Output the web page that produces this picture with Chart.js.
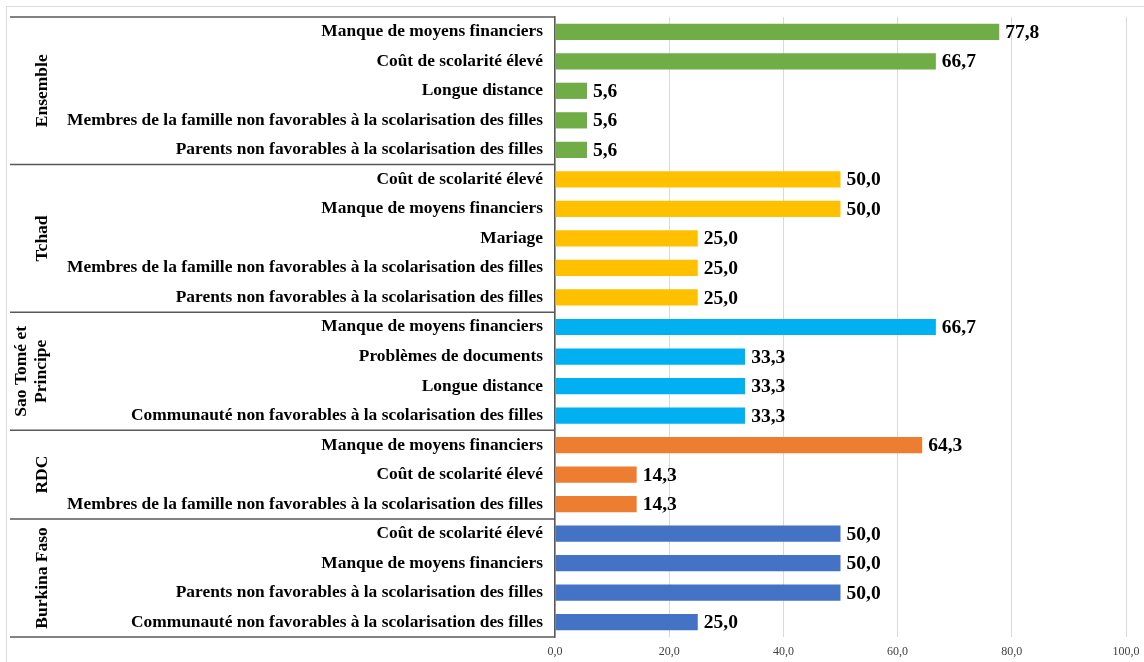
<!DOCTYPE html>
<html>
<head>
<meta charset="utf-8">
<script src="https://cdn.jsdelivr.net/npm/chart.js@4/dist/chart.umd.min.js"></script>
<style>
    html, body { margin: 0; padding: 0; background: #fff; }
    #wrap { position: relative; width: 1144px; height: 662px; overflow: hidden; }
    #frame { position: absolute; left: 6px; top: 6px; width: 1200px; height: 700px; border: 1px solid #dcdcdc; }
    #chart { position: absolute; left: 0; top: 0; }
</style>
</head>
<body>
<div id="wrap">
    <div id="frame"></div>
    <canvas id="chart" width="1144" height="662"></canvas>
</div>
<script>
// Data (percentages)
const groupNames = ['Ensemble', 'Tchad', ['Sao Tomé et', 'Principe'], 'RDC', 'Burkina Faso'];
const groupColors = ['#70AD47', '#FFC000', '#00B0F0', '#ED7D31', '#4472C4'];

const ensembleLabels = [
    'Manque de moyens financiers',
    'Coût de scolarité élevé',
    'Longue distance',
    'Membres de la famille non favorables à la scolarisation des filles',
    'Parents non favorables à la scolarisation des filles'
];
const ensembleValues = [77.8, 66.7, 5.6, 5.6, 5.6];

const tchadLabels = [
    'Coût de scolarité élevé',
    'Manque de moyens financiers',
    'Mariage',
    'Membres de la famille non favorables à la scolarisation des filles',
    'Parents non favorables à la scolarisation des filles'
];
const tchadValues = [50.0, 50.0, 25.0, 25.0, 25.0];

const saoTomeLabels = [
    'Manque de moyens financiers',
    'Problèmes de documents',
    'Longue distance',
    'Communauté non favorables à la scolarisation des filles'
];
const saoTomeValues = [66.7, 33.3, 33.3, 33.3];

const rdcLabels = [
    'Manque de moyens financiers',
    'Coût de scolarité élevé',
    'Membres de la famille non favorables à la scolarisation des filles'
];
const rdcValues = [64.3, 14.3, 14.3];

const burkinaLabels = [
    'Coût de scolarité élevé',
    'Manque de moyens financiers',
    'Parents non favorables à la scolarisation des filles',
    'Communauté non favorables à la scolarisation des filles'
];
const burkinaValues = [50.0, 50.0, 50.0, 25.0];

const xTicks = [0, 20, 40, 60, 80, 100];

// Build flat arrays for the chart
const groupLabels = [ensembleLabels, tchadLabels, saoTomeLabels, rdcLabels, burkinaLabels];
const groupValues = [ensembleValues, tchadValues, saoTomeValues, rdcValues, burkinaValues];

const labels = [];
const values = [];
const colors = [];
const groupStarts = [];
groupLabels.forEach((list, g) => {
    groupStarts.push(labels.length);
    list.forEach((lab, i) => {
        labels.push(lab);
        values.push(groupValues[g][i]);
        colors.push(groupColors[g]);
    });
});

const serif = "'Liberation Serif', 'Times New Roman', serif";
const fmt = v => v.toFixed(1).replace('.', ',');

// Group frame lines and rotated group names on the left
const groupPlugin = {
    id: 'groupPlugin',
    afterDraw(chart) {
        const ctx = chart.ctx;
        const area = chart.chartArea;
        const y = chart.scales.y;
        const n = labels.length;
        const rowH = (area.bottom - area.top) / n;
        const boxLeft = 10;

        ctx.save();
        ctx.strokeStyle = '#595959';
        ctx.lineWidth = 1.5;

        const bounds = groupStarts.map(i => y.getPixelForValue(i) - rowH / 2);
        bounds.push(area.bottom);

        bounds.forEach(b => {
            ctx.beginPath();
            ctx.moveTo(boxLeft, b);
            ctx.lineTo(area.left, b);
            ctx.stroke();
        });

        ctx.fillStyle = '#000';
        ctx.font = 'bold 17.5px ' + serif;
        ctx.textAlign = 'center';
        ctx.textBaseline = 'middle';
        groupNames.forEach((name, g) => {
            const mid = (bounds[g] + bounds[g + 1]) / 2;
            const lines = Array.isArray(name) ? name : [name];
            ctx.save();
            ctx.translate(lines.length > 1 ? 31 : 42, mid);
            ctx.rotate(-Math.PI / 2);
            lines.forEach((line, k) => {
                ctx.fillText(line, 0, (k - (lines.length - 1) / 2) * 20);
            });
            ctx.restore();
        });
        ctx.restore();
    }
};

// Value labels at the end of each bar
const valuePlugin = {
    id: 'valuePlugin',
    afterDatasetsDraw(chart) {
        const ctx = chart.ctx;
        const meta = chart.getDatasetMeta(0);
        ctx.save();
        ctx.fillStyle = '#000';
        ctx.font = 'bold 19.5px ' + serif;
        ctx.textAlign = 'left';
        ctx.textBaseline = 'middle';
        meta.data.forEach((bar, i) => {
            ctx.fillText(fmt(values[i]), bar.x + 6, bar.y + 1);
        });
        ctx.restore();
    }
};

new Chart(document.getElementById('chart'), {
    type: 'bar',
    data: {
        labels: labels,
        datasets: [{
            data: values,
            backgroundColor: colors,
            borderWidth: 0,
            barPercentage: 1,
            categoryPercentage: 0.55
        }]
    },
    options: {
        indexAxis: 'y',
        responsive: false,
        animation: false,
        devicePixelRatio: 1,
        layout: { padding: { top: 17, right: 18, left: 0, bottom: 0 } },
        plugins: {
            legend: { display: false },
            tooltip: { enabled: false }
        },
        scales: {
            x: {
                min: 0,
                max: 100,
                afterBuildTicks: scale => { scale.ticks = xTicks.map(v => ({ value: v })); },
                afterFit: scale => {
                    scale.height = 25;
                    scale.paddingLeft = 0;
                    scale.paddingRight = 0;
                },
                grid: { color: '#d9d9d9', lineWidth: 1, drawTicks: false },
                border: { display: false },
                ticks: {
                    padding: 8,
                    color: '#404040',
                    font: { family: serif, size: 12 },
                    callback: v => fmt(v)
                }
            },
            y: {
                afterFit: scale => {
                    scale.width = 555;
                    scale.paddingTop = 0;
                    scale.paddingBottom = 0;
                },
                grid: { display: false, drawTicks: false },
                border: { display: true, color: '#595959', width: 1.5 },
                ticks: {
                    padding: 12,
                    color: '#000',
                    autoSkip: false,
                    font: { family: serif, size: 17.4, weight: 'bold' }
                }
            }
        }
    },
    plugins: [groupPlugin, valuePlugin]
});
</script>
</body>
</html>
